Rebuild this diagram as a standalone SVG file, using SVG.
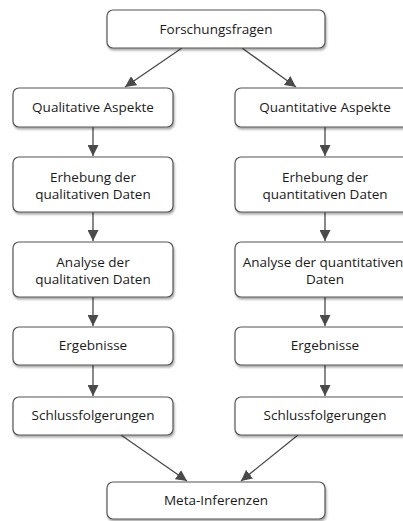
<svg xmlns="http://www.w3.org/2000/svg" width="403" height="521" viewBox="0 0 403 521">
  <defs>
    <marker id="arr" viewBox="0 0 10 10" refX="10" refY="5" markerWidth="11" markerHeight="11" markerUnits="userSpaceOnUse" orient="auto">
      <path d="M0,0 L10,5 L0,10 z" fill="#4a4a4a"/>
    </marker>
    <filter id="sh" x="-10%" y="-20%" width="130%" height="150%">
      <feGaussianBlur in="SourceAlpha" stdDeviation="1"/>
      <feOffset dx="1" dy="2" result="b"/>
      <feComponentTransfer><feFuncA type="linear" slope="0.35"/></feComponentTransfer>
      <feMerge><feMergeNode/><feMergeNode in="SourceGraphic"/></feMerge>
    </filter>
    <style>
      .box { fill: #fff; stroke: #555; stroke-width: 1.2; filter: url(#sh); }
      .t { font-family: "Open Sans", "Noto Sans", sans-serif; font-size: 13.5px; fill: #1a1a1a; text-anchor: middle; }
      .c { stroke: #4a4a4a; stroke-width: 1.3; fill: none; marker-end: url(#arr); }
    </style>
  </defs>
  <rect width="403" height="521" fill="#fff"/>

  <g id="connectors">
    <line class="c" x1="182" y1="48" x2="125" y2="87"/>
    <line class="c" x1="242" y1="48" x2="296" y2="87"/>
    <line class="c" x1="93" y1="127" x2="93" y2="156"/>
    <line class="c" x1="325" y1="127" x2="325" y2="156"/>
    <line class="c" x1="93" y1="212" x2="93" y2="241"/>
    <line class="c" x1="325" y1="212" x2="325" y2="241"/>
    <line class="c" x1="93" y1="297" x2="93" y2="326"/>
    <line class="c" x1="325" y1="297" x2="325" y2="326"/>
    <line class="c" x1="93" y1="365" x2="93" y2="396"/>
    <line class="c" x1="325" y1="365" x2="325" y2="396"/>
    <line class="c" x1="121" y1="435" x2="187" y2="481"/>
    <line class="c" x1="298" y1="435" x2="241" y2="481"/>
  </g>

  <g id="forschungsfragen">
    <rect class="box" x="107" y="10" width="218" height="38" rx="6"/>
    <text class="t" x="216" y="34">Forschungsfragen</text>
  </g>

  <g id="qual-aspekte">
    <rect class="box" x="13" y="88" width="160" height="39" rx="6"/>
    <text class="t" x="93" y="112">Qualitative Aspekte</text>
  </g>
  <g id="quant-aspekte">
    <rect class="box" x="235" y="88" width="180" height="39" rx="6"/>
    <text class="t" x="325" y="112">Quantitative Aspekte</text>
  </g>

  <g id="qual-erhebung">
    <rect class="box" x="13" y="157" width="160" height="55" rx="6"/>
    <text class="t" x="93" y="182">Erhebung der</text>
    <text class="t" x="93" y="199">qualitativen Daten</text>
  </g>
  <g id="quant-erhebung">
    <rect class="box" x="235" y="157" width="180" height="55" rx="6"/>
    <text class="t" x="325" y="182">Erhebung der</text>
    <text class="t" x="325" y="199">quantitativen Daten</text>
  </g>

  <g id="qual-analyse">
    <rect class="box" x="13" y="242" width="160" height="55" rx="6"/>
    <text class="t" x="93" y="267">Analyse der</text>
    <text class="t" x="93" y="284">qualitativen Daten</text>
  </g>
  <g id="quant-analyse">
    <rect class="box" x="235" y="242" width="180" height="55" rx="6"/>
    <text class="t" x="323" y="267">Analyse der quantitativen</text>
    <text class="t" x="325" y="284">Daten</text>
  </g>

  <g id="qual-ergebnisse">
    <rect class="box" x="13" y="327" width="160" height="38" rx="6"/>
    <text class="t" x="93" y="350">Ergebnisse</text>
  </g>
  <g id="quant-ergebnisse">
    <rect class="box" x="235" y="327" width="180" height="38" rx="6"/>
    <text class="t" x="325" y="350">Ergebnisse</text>
  </g>

  <g id="qual-schluss">
    <rect class="box" x="13" y="397" width="160" height="38" rx="6"/>
    <text class="t" x="93" y="420">Schlussfolgerungen</text>
  </g>
  <g id="quant-schluss">
    <rect class="box" x="235" y="397" width="180" height="38" rx="6"/>
    <text class="t" x="325" y="420">Schlussfolgerungen</text>
  </g>

  <g id="meta-inferenzen">
    <rect class="box" x="107" y="482" width="218" height="37" rx="6"/>
    <text class="t" x="216" y="505">Meta-Inferenzen</text>
  </g>
</svg>
